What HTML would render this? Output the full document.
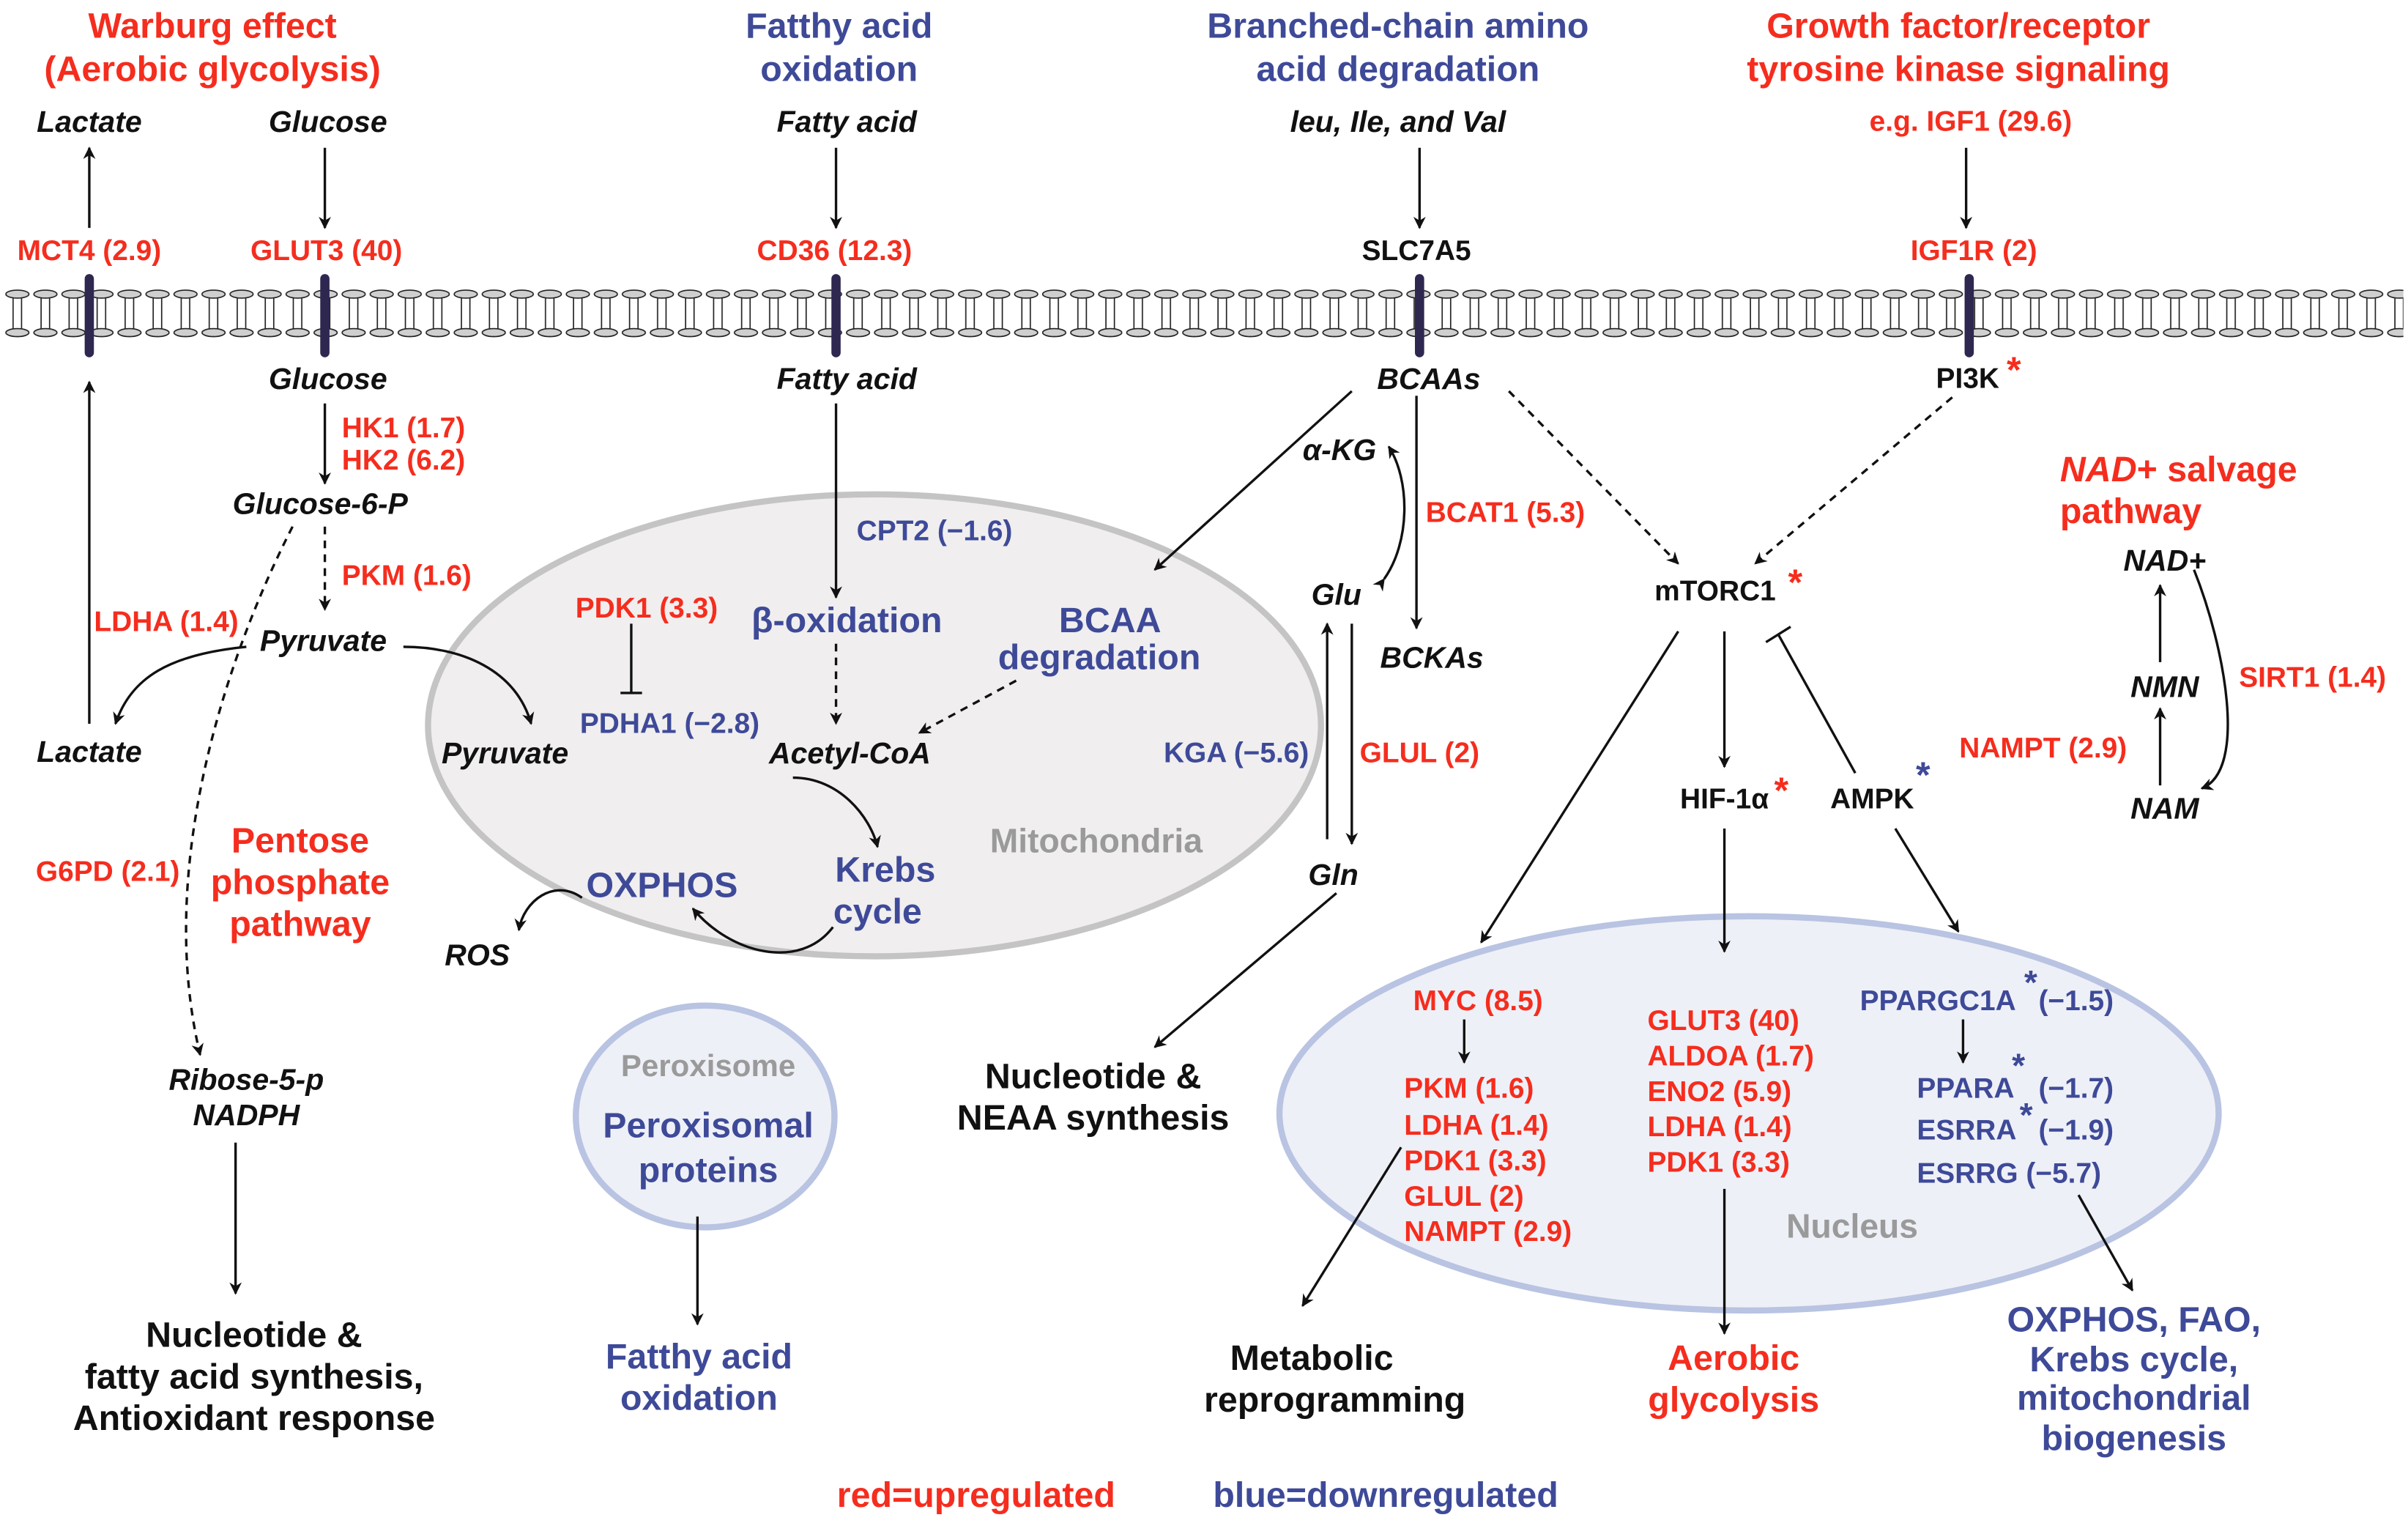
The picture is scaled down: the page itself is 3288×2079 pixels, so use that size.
<!DOCTYPE html>
<html><head><meta charset="utf-8"><style>
html,body{margin:0;padding:0;background:#fff;width:3288px;height:2079px;overflow:hidden}
svg{display:block}
text{font-family:"Liberation Sans",Arial,sans-serif;font-weight:bold;text-anchor:middle;dominant-baseline:central}
.r{fill:#f52d1e;font-size:18.5px}.b{fill:#3e4a98;font-size:18.5px}.k{fill:#111;font-size:18.5px}
.i{font-style:italic;fill:#111;font-size:19.5px}
.T{font-size:23px}.s{text-anchor:start}
.g{fill:#9a9a9a;font-size:22px}
.ln{stroke:#111;stroke-width:1.6;fill:none}
.d{stroke-dasharray:5 4}
</style></head><body>
<svg width="3288" height="2079" viewBox="0 0 1564 989" preserveAspectRatio="none" xmlns="http://www.w3.org/2000/svg">
<defs>
<marker id="a" viewBox="0 0 10 10" refX="9" refY="5" markerWidth="8" markerHeight="8" orient="auto" markerUnits="userSpaceOnUse"><path d="M0,0 L10,5 L0,10 L3,5 z" fill="#111"/></marker>
<pattern id="lip" x="3" y="0" width="18.2" height="989" patternUnits="userSpaceOnUse">
<line x1="5.5" y1="192" x2="5.5" y2="215" stroke="#222" stroke-width=".8"/><line x1="11" y1="192" x2="11" y2="215" stroke="#222" stroke-width=".8"/>
<ellipse cx="8.3" cy="191" rx="7.5" ry="2.6" fill="#cfcfcf" stroke="#222" stroke-width=".8"/>
<ellipse cx="8.3" cy="216" rx="7.5" ry="2.6" fill="#cfcfcf" stroke="#222" stroke-width=".8"/>
</pattern>
</defs>
<rect x="0" y="0" width="1564" height="989" fill="#fff"/>
<ellipse cx="568" cy="471" rx="290" ry="150" fill="#f0eeef" stroke="#c4c4c4" stroke-width="4"/>
<ellipse cx="1136" cy="723" rx="305" ry="128" fill="#eef0f7" stroke="#b9c3e2" stroke-width="4"/>
<ellipse cx="458" cy="725" rx="84" ry="72" fill="#eef0f7" stroke="#b9c3e2" stroke-width="4"/>
<rect x="3" y="185" width="1558" height="36" fill="url(#lip)"/>
<g fill="#2e2750"><rect x="55" y="178" width="6" height="54" rx="3"/><rect x="208" y="178" width="6" height="54" rx="3"/><rect x="540" y="178" width="6" height="54" rx="3"/><rect x="919" y="178" width="6" height="54" rx="3"/><rect x="1276" y="178" width="6" height="54" rx="3"/></g>

<text class="r T" x="138" y="17">Warburg effect</text><text class="r T" x="138" y="45">(Aerobic glycolysis)</text>
<text class="b T" x="545" y="17">Fatthy acid</text><text class="b T" x="545" y="45">oxidation</text>
<text class="b T" x="908" y="17">Branched-chain amino</text><text class="b T" x="908" y="45">acid degradation</text>
<text class="r T" x="1272" y="17">Growth factor/receptor</text><text class="r T" x="1272" y="45">tyrosine kinase signaling</text>

<text class="i" x="58" y="79">Lactate</text>
<text class="i" x="213" y="79">Glucose</text>
<text class="i" x="550" y="79">Fatty acid</text>
<text class="i" x="908" y="79">leu, Ile, and Val</text>
<text class="r" x="1280" y="79">e.g. IGF1 (29.6)</text>
<text class="r" x="58" y="163">MCT4 (2.9)</text>
<text class="r" x="212" y="163">GLUT3 (40)</text>
<text class="r" x="542" y="163">CD36 (12.3)</text>
<text class="k" x="920" y="163">SLC7A5</text>
<text class="r" x="1282" y="163">IGF1R (2)</text>
<text class="i" x="213" y="246">Glucose</text>
<text class="i" x="550" y="246">Fatty acid</text>
<text class="i" x="928" y="246">BCAAs</text>
<text class="k" x="1278" y="246">PI3K</text><text class="r" x="1308" y="240" style="font-size:24px">*</text>

<path class="ln" d="M58 148 V96" marker-end="url(#a)"/>
<path class="ln" d="M211 96 V148" marker-end="url(#a)"/>
<path class="ln" d="M543 96 V148" marker-end="url(#a)"/>
<path class="ln" d="M922 96 V148" marker-end="url(#a)"/>
<path class="ln" d="M1277 96 V148" marker-end="url(#a)"/>

<path class="ln" d="M58 470 V248" marker-end="url(#a)"/>
<text class="r s" x="222" y="278">HK1 (1.7)</text>
<text class="r s" x="222" y="299">HK2 (6.2)</text>
<path class="ln" d="M211 262 V314" marker-end="url(#a)"/>
<text class="i" x="208" y="327">Glucose-6-P</text>
<path class="ln d" d="M211 342 V396" marker-end="url(#a)"/>
<text class="r s" x="222" y="374">PKM (1.6)</text>
<text class="i" x="210" y="416">Pyruvate</text>
<text class="r" x="108" y="404">LDHA (1.4)</text>
<text class="i" x="58" y="488">Lactate</text>
<path class="ln" d="M160 420 C110 425 85 440 75 470" marker-end="url(#a)"/>
<path class="ln" d="M262 420 C300 420 335 435 345 470" marker-end="url(#a)"/>
<path class="ln d" d="M190 342 C150 420 100 560 130 685" marker-end="url(#a)"/>
<text class="r" x="70" y="566">G6PD (2.1)</text>
<text class="r T" x="195" y="546">Pentose</text><text class="r T" x="195" y="573">phosphate</text><text class="r T" x="195" y="600">pathway</text>
<text class="i" x="160" y="701">Ribose-5-p</text>
<text class="i" x="160" y="724">NADPH</text>
<path class="ln" d="M153 742 V840" marker-end="url(#a)"/>
<text class="k T" x="165" y="867">Nucleotide &amp;</text><text class="k T" x="165" y="894">fatty acid synthesis,</text><text class="k T" x="165" y="921">Antioxidant response</text>

<path class="ln" d="M543 262 V388" marker-end="url(#a)"/>
<text class="b" x="607" y="345">CPT2 (−1.6)</text>
<text class="b T" x="550" y="403">β-oxidation</text>
<path class="ln d" d="M543 418 V470" marker-end="url(#a)"/>
<text class="i" x="552" y="489">Acetyl-CoA</text>
<text class="b T" x="721" y="403">BCAA</text>
<text class="b T" x="714" y="427">degradation</text>
<path class="ln d" d="M660 442 L597 476" marker-end="url(#a)"/>
<text class="r" x="420" y="395">PDK1 (3.3)</text>
<path class="ln" d="M410 405 V450 M403 450 H417"/>
<text class="b" x="435" y="470">PDHA1 (−2.8)</text>
<text class="i" x="328" y="489">Pyruvate</text>
<path class="ln" d="M515 505 C545 505 565 530 570 550" marker-end="url(#a)"/>
<text class="b T" x="575" y="565">Krebs</text>
<text class="b T" x="570" y="592">cycle</text>
<text class="b T" x="430" y="575">OXPHOS</text>
<path class="ln" d="M541 602 C520 630 475 620 450 590" marker-end="url(#a)"/>
<path class="ln" d="M378 583 C360 570 340 585 337 604" marker-end="url(#a)"/>
<text class="i" x="310" y="620">ROS</text>
<text class="g" x="712" y="546">Mitochondria</text>

<path class="ln" d="M878 254 L750 370" marker-end="url(#a)"/>
<text class="i" x="870" y="292">α-KG</text>
<path class="ln" d="M899 376 C916 352 916 312 902 290" marker-start="url(#a)" marker-end="url(#a)"/>
<path class="ln" d="M920 257 V408" marker-end="url(#a)"/>
<text class="r s" x="926" y="333">BCAT1 (5.3)</text>
<text class="i" x="868" y="386">Glu</text>
<text class="i" x="930" y="427">BCKAs</text>
<path class="ln" d="M862 545 V405" marker-end="url(#a)"/>
<path class="ln" d="M878 405 V548" marker-end="url(#a)"/>
<text class="b" x="803" y="489">KGA (−5.6)</text>
<text class="r" x="922" y="489">GLUL (2)</text>
<text class="i" x="866" y="568">Gln</text>
<path class="ln" d="M868 580 L750 680" marker-end="url(#a)"/>
<text class="k T" x="710" y="699">Nucleotide &amp;</text><text class="k T" x="710" y="726">NEAA synthesis</text>

<text class="g" x="460" y="692" style="font-size:20px">Peroxisome</text>
<text class="b T" x="460" y="731">Peroxisomal</text><text class="b T" x="460" y="760">proteins</text>
<path class="ln" d="M453 790 V860" marker-end="url(#a)"/>
<text class="b T" x="454" y="881">Fatthy acid</text><text class="b T" x="454" y="908">oxidation</text>

<path class="ln d" d="M980 254 L1090 366" marker-end="url(#a)"/>
<path class="ln d" d="M1268 258 L1140 366" marker-end="url(#a)"/>
<text class="k" x="1114" y="384">mTORC1</text><text class="r" x="1166" y="378" style="font-size:24px">*</text>
<path class="ln" d="M1090 410 L962 612" marker-end="url(#a)"/>
<path class="ln" d="M1120 410 V498" marker-end="url(#a)"/>
<path class="ln" d="M1205 502 L1155 412 M1147 417 L1163 407"/>
<text class="k" x="1120" y="519">HIF-1α</text><text class="r" x="1157" y="513" style="font-size:24px">*</text>
<text class="k" x="1216" y="519">AMPK</text><text class="b" x="1249" y="503" style="font-size:24px">*</text>
<path class="ln" d="M1120 538 V618" marker-end="url(#a)"/>
<path class="ln" d="M1231 538 L1272 605" marker-end="url(#a)"/>

<text class="r T s" x="1338" y="305"><tspan font-style="italic">NAD</tspan>+ salvage</text>
<text class="r T s" x="1338" y="332">pathway</text>
<text class="i" x="1406" y="364">NAD+</text>
<text class="i" x="1406" y="446">NMN</text>
<text class="i" x="1406" y="525">NAM</text>
<path class="ln" d="M1403 430 V380" marker-end="url(#a)"/>
<path class="ln" d="M1403 510 V460" marker-end="url(#a)"/>
<path class="ln" d="M1425 370 C1445 420 1460 500 1430 512" marker-end="url(#a)"/>
<text class="r" x="1502" y="440">SIRT1 (1.4)</text>
<text class="r" x="1327" y="486">NAMPT (2.9)</text>

<text class="r" x="960" y="650">MYC (8.5)</text>
<path class="ln" d="M951 662 V690" marker-end="url(#a)"/>
<text class="r s" x="912" y="707">PKM (1.6)</text>
<text class="r s" x="912" y="731">LDHA (1.4)</text>
<text class="r s" x="912" y="754">PDK1 (3.3)</text>
<text class="r s" x="912" y="777">GLUL (2)</text>
<text class="r s" x="912" y="800">NAMPT (2.9)</text>
<text class="r s" x="1070" y="663">GLUT3 (40)</text>
<text class="r s" x="1070" y="686">ALDOA (1.7)</text>
<text class="r s" x="1070" y="709">ENO2 (5.9)</text>
<text class="r s" x="1070" y="732">LDHA (1.4)</text>
<text class="r s" x="1070" y="755">PDK1 (3.3)</text>
<text class="b s" x="1208" y="650">PPARGC1A</text><text class="b s" x="1324" y="650">(−1.5)</text><text class="b" x="1319" y="638" style="font-size:22px">*</text>
<path class="ln" d="M1275 662 V690" marker-end="url(#a)"/>
<text class="b s" x="1245" y="707">PPARA</text><text class="b s" x="1324" y="707">(−1.7)</text><text class="b" x="1311" y="692" style="font-size:22px">*</text>
<text class="b s" x="1245" y="734">ESRRA</text><text class="b s" x="1324" y="734">(−1.9)</text><text class="b" x="1316" y="724" style="font-size:22px">*</text>
<text class="b s" x="1245" y="762">ESRRG (−5.7)</text>
<text class="g" x="1203" y="796">Nucleus</text>
<path class="ln" d="M910 745 L846 848" marker-end="url(#a)"/>
<path class="ln" d="M1120 772 V866" marker-end="url(#a)"/>
<path class="ln" d="M1350 776 L1385 838" marker-end="url(#a)"/>
<text class="k T" x="852" y="882">Metabolic</text><text class="k T" x="867" y="909">reprogramming</text>
<text class="r T" x="1126" y="882">Aerobic</text><text class="r T" x="1126" y="909">glycolysis</text>
<text class="b T" x="1386" y="857">OXPHOS, FAO,</text><text class="b T" x="1386" y="883">Krebs cycle,</text><text class="b T" x="1386" y="908">mitochondrial</text><text class="b T" x="1386" y="934">biogenesis</text>

<text class="r T" x="634" y="971">red=upregulated</text>
<text class="b T" x="900" y="971">blue=downregulated</text>
</svg>
</body></html>
